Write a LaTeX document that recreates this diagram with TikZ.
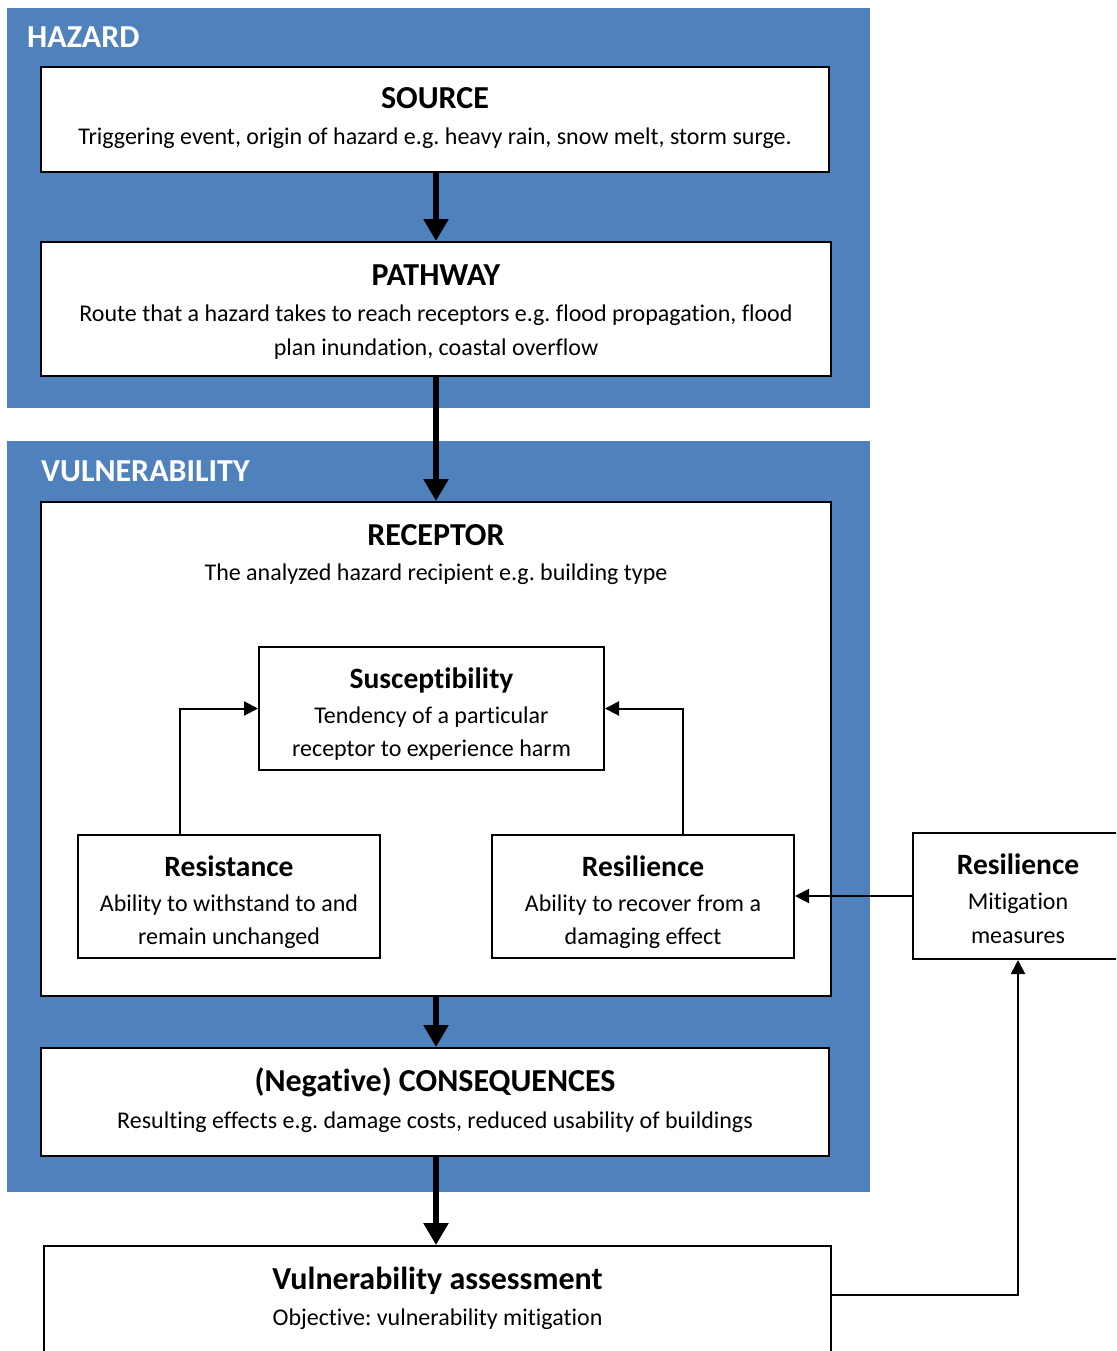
\documentclass[tikz,border=0pt]{standalone}
\usepackage{fontspec}
\setmainfont{Carlito}[Ligatures={NoCommon}]
\usetikzlibrary{arrows.meta}
\definecolor{regionblue}{HTML}{4F81BD}
\frenchspacing
\tikzset{
  region/.style={fill=regionblue, draw=none, inner sep=0pt},
  regionlabel/.style={anchor=base west, inner sep=0pt, text=white, font=\fontsize{32}{38}\selectfont\bfseries},
  box/.style={draw=black, line width=2pt, fill=white, inner sep=0pt},
  maintitle/.style={anchor=base, inner sep=0pt, font=\fontsize{32}{38}\selectfont\bfseries},
  subtitle/.style={anchor=base, inner sep=0pt, font=\fontsize{29.5}{35}\selectfont\bfseries},
  bodytext/.style={anchor=base, inner sep=0pt, font=\fontsize{24}{34}\selectfont},
  bigarrow/.style={line width=6pt, -{Triangle[width=24pt,length=22pt]}},
  smallarrow/.style={line width=2pt, -{Triangle[width=14pt,length=14pt]}},
}
\begin{document}
\begin{tikzpicture}[x=1pt,y=-1pt]
\useasboundingbox (0,0) rectangle (1116,1351);
\clip (0,0) rectangle (1116,1351);
% regions
\node[region, minimum width=863, minimum height=400] (hz) at (438.5,208) {};
\node[region, minimum width=863, minimum height=751] (vu) at (438.5,816.5) {};
\node[regionlabel] (hzl) at (27,48) {HAZARD};
\node[regionlabel] (vul) at (41,481) {VULNERABILITY};
% SOURCE
\node[box, minimum width=788, minimum height=105] (src) at (435,119.5) {};
\node[maintitle] (srct) at (435,109) {SOURCE};
\node[bodytext] (srcb) at (435,145) {Triggering event, origin of hazard e.g. heavy rain, snow melt, storm surge.};
% PATHWAY
\node[box, minimum width=790, minimum height=134] (pw) at (436,309) {};
\node[maintitle] (pwt) at (436,285) {PATHWAY};
\node[bodytext] (pwb1) at (436,321) {Route that a hazard takes to reach receptors e.g. flood propagation, flood};
\node[bodytext] (pwb2) at (436,355) {plan inundation, coastal overflow};
% RECEPTOR
\node[box, minimum width=790, minimum height=494] (rec) at (436,749) {};
\node[maintitle] (rect) at (436,545) {RECEPTOR};
\node[bodytext] (recb) at (436,580) {The analyzed hazard recipient e.g. building type};
% Susceptibility
\node[box, minimum width=345, minimum height=123] (sus) at (431.5,708.5) {};
\node[subtitle] (sust) at (431.5,688) {Susceptibility};
\node[bodytext] (susb1) at (431.5,723) {Tendency of a particular};
\node[bodytext] (susb2) at (431.5,756) {receptor to experience harm};
% Resistance
\node[box, minimum width=302, minimum height=123] (res) at (229,896.5) {};
\node[subtitle] (rest) at (229,876) {Resistance};
\node[bodytext] (resb1) at (229,911) {Ability to withstand to and};
\node[bodytext] (resb2) at (229,944) {remain unchanged};
% Resilience (inner)
\node[box, minimum width=302, minimum height=123] (rsl) at (643,896.5) {};
\node[subtitle] (rslt) at (643,876) {Resilience};
\node[bodytext] (rslb1) at (643,911) {Ability to recover from a};
\node[bodytext] (rslb2) at (643,944) {damaging effect};
% Resilience (outer)
\node[box, minimum width=210, minimum height=126] (mit) at (1018,896) {};
\node[subtitle] (mitt) at (1018,874) {Resilience};
\node[bodytext] (mitb1) at (1018,909) {Mitigation};
\node[bodytext] (mitb2) at (1018,943) {measures};
% CONSEQUENCES
\node[box, minimum width=788, minimum height=108] (cons) at (435,1102) {};
\node[maintitle] (const) at (435,1091) {(Negative) CONSEQUENCES};
\node[bodytext] (consb) at (435,1128) {Resulting effects e.g. damage costs, reduced usability of buildings};
% Vulnerability assessment
\node[box, minimum width=787, minimum height=160] (va) at (437.5,1326) {};
\node[maintitle] (vat) at (437.5,1289) {Vulnerability assessment};
\node[bodytext] (vab) at (437.5,1325) {Objective: vulnerability mitigation};
\coordinate (vaout) at (831,1295);
% connectors
\draw[bigarrow] ([xshift=1pt]src.south) -- ([xshift=1pt]src.south |- pw.north);
\draw[bigarrow] (pw.south) -- (pw.south |- rec.north);
\draw[bigarrow] (rec.south) -- (rec.south |- cons.north);
\draw[bigarrow] ([xshift=1pt]cons.south) -- ([xshift=1pt]cons.south |- va.north);
\draw[smallarrow] ([xshift=-49pt]res.north) |- (sus.west);
\draw[smallarrow] ([xshift=40pt]rsl.north) |- (sus.east);
\draw[smallarrow] (mit.west) -- (mit.west -| rsl.east);
\draw[smallarrow] (vaout) -| (mit.south);
\end{tikzpicture}
\end{document}
